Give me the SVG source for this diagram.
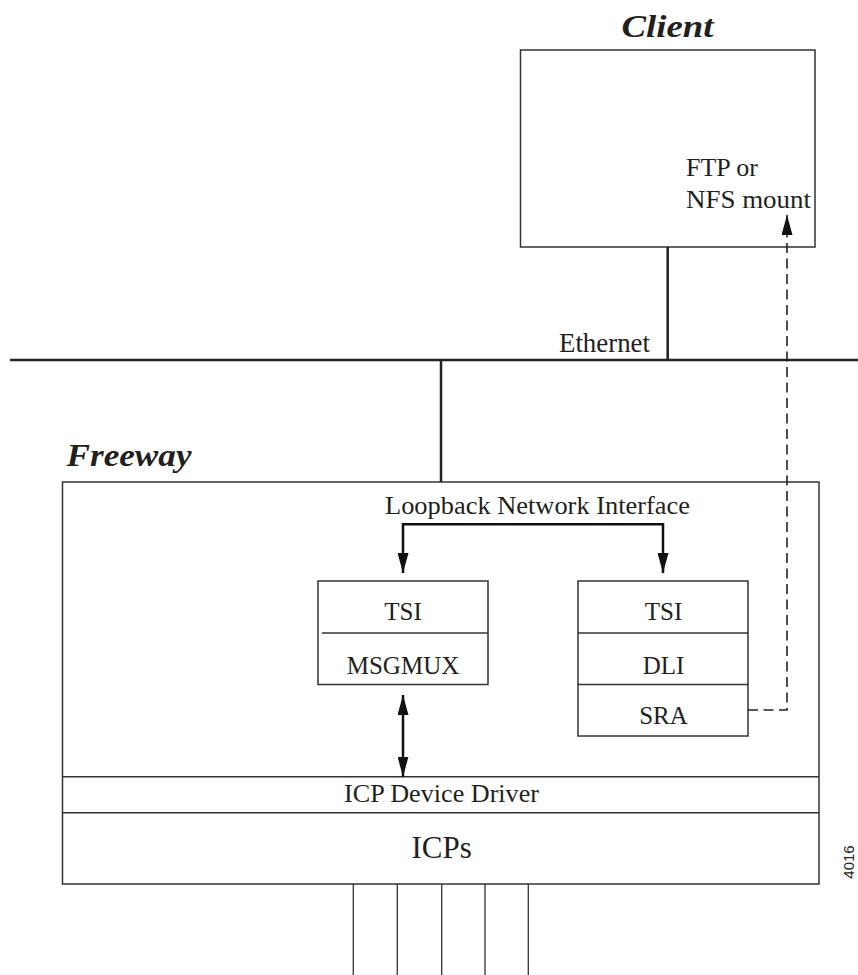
<svg xmlns="http://www.w3.org/2000/svg" width="858" height="975" viewBox="0 0 858 975">
<style>
.box{fill:#fff;stroke:#333;stroke-width:1.5}
.ln{fill:none;stroke:#333;stroke-width:1.5}
.thick{fill:none;stroke:#222;stroke-width:2.5}
.arr{fill:none;stroke:#111;stroke-width:2.5}
.dash{fill:none;stroke:#222;stroke-width:1.6;stroke-dasharray:10 5.5}
.thin{fill:none;stroke:#333;stroke-width:1.3}
.t{font-family:"Liberation Serif","Times New Roman",serif;fill:#231f20;text-anchor:middle}
.title{font-family:"Liberation Serif","Times New Roman",serif;font-style:italic;font-weight:bold;fill:#231f20}
</style>
<defs>
<marker id="ah" markerUnits="userSpaceOnUse" markerWidth="20" markerHeight="11" refX="20" refY="5.5" orient="auto-start-reverse" viewBox="0 0 20 11">
<path d="M0,0 L20,5.5 L0,11 z" fill="#111"/>
</marker>
</defs>

<g id="client">
<text class="title" x="667.5" y="37" font-size="31" text-anchor="middle" textLength="92" lengthAdjust="spacingAndGlyphs">Client</text>
<rect class="box" x="520.5" y="50" width="294.5" height="197"/>
<text class="t" x="686" y="176" font-size="26" style="text-anchor:start">FTP or</text>
<text class="t" x="686" y="208" font-size="26" style="text-anchor:start" textLength="125" lengthAdjust="spacingAndGlyphs">NFS mount</text>
</g>

<g id="ethernet">
<line class="thick" x1="10" y1="360" x2="858" y2="360"/>
<text class="t" x="604.5" y="351.5" font-size="26.5" textLength="91" lengthAdjust="spacingAndGlyphs">Ethernet</text>
</g>

<g id="freeway">
<text class="title" x="66.5" y="466" font-size="32" textLength="125" lengthAdjust="spacingAndGlyphs">Freeway</text>
<rect class="box" x="62.5" y="482" width="756.5" height="402"/>
<text class="t" x="537.5" y="514" font-size="26" textLength="305" lengthAdjust="spacingAndGlyphs">Loopback Network Interface</text>
</g>

<g id="msgmux">
<rect class="box" x="318" y="581" width="170" height="103.5"/>
<line class="ln" x1="322" y1="633" x2="488" y2="633"/>
<text class="t" x="403" y="620" font-size="25">TSI</text>
<text class="t" x="403" y="674" font-size="25">MSGMUX</text>
</g>

<g id="dli">
<rect class="box" x="578" y="581" width="170" height="155"/>
<line class="ln" x1="578" y1="633" x2="748" y2="633"/>
<line class="ln" x1="578" y1="684.5" x2="748" y2="684.5"/>
<text class="t" x="663.5" y="620" font-size="25">TSI</text>
<text class="t" x="663.5" y="674" font-size="25">DLI</text>
<text class="t" x="663.5" y="723.5" font-size="25">SRA</text>
</g>

<g id="driver">
<line class="ln" x1="62.5" y1="776.7" x2="819" y2="776.7"/>
<text class="t" x="441.5" y="801.5" font-size="25.3" textLength="195" lengthAdjust="spacingAndGlyphs">ICP Device Driver</text>
</g>

<g id="icps">
<line class="ln" x1="62.5" y1="812.7" x2="819" y2="812.7"/>
<text class="t" x="441.7" y="858" font-size="31">ICPs</text>
</g>

<g id="connectors">
<line class="thick" x1="667.7" y1="247" x2="667.7" y2="360"/>
<line class="thick" x1="441" y1="360" x2="441" y2="482"/>
<path class="arr" d="M403,573 V524.3 H663 V573" marker-start="url(#ah)" marker-end="url(#ah)"/>
<path class="arr" d="M403,695 V776.7" marker-start="url(#ah)" marker-end="url(#ah)"/>
<path class="dash" d="M748,710 H787 V215" marker-end="url(#ah)"/>
<line class="thin" x1="353.3" y1="884" x2="353.3" y2="975"/>
<line class="thin" x1="397.3" y1="884" x2="397.3" y2="975"/>
<line class="thin" x1="441.7" y1="884" x2="441.7" y2="975"/>
<line class="thin" x1="485" y1="884" x2="485" y2="975"/>
<line class="thin" x1="528.3" y1="884" x2="528.3" y2="975"/>
</g>

<text x="854" y="862" transform="rotate(-90 854 862)" font-family="Liberation Sans, Arial, sans-serif" font-size="15" fill="#231f20" text-anchor="middle">4016</text>
</svg>
